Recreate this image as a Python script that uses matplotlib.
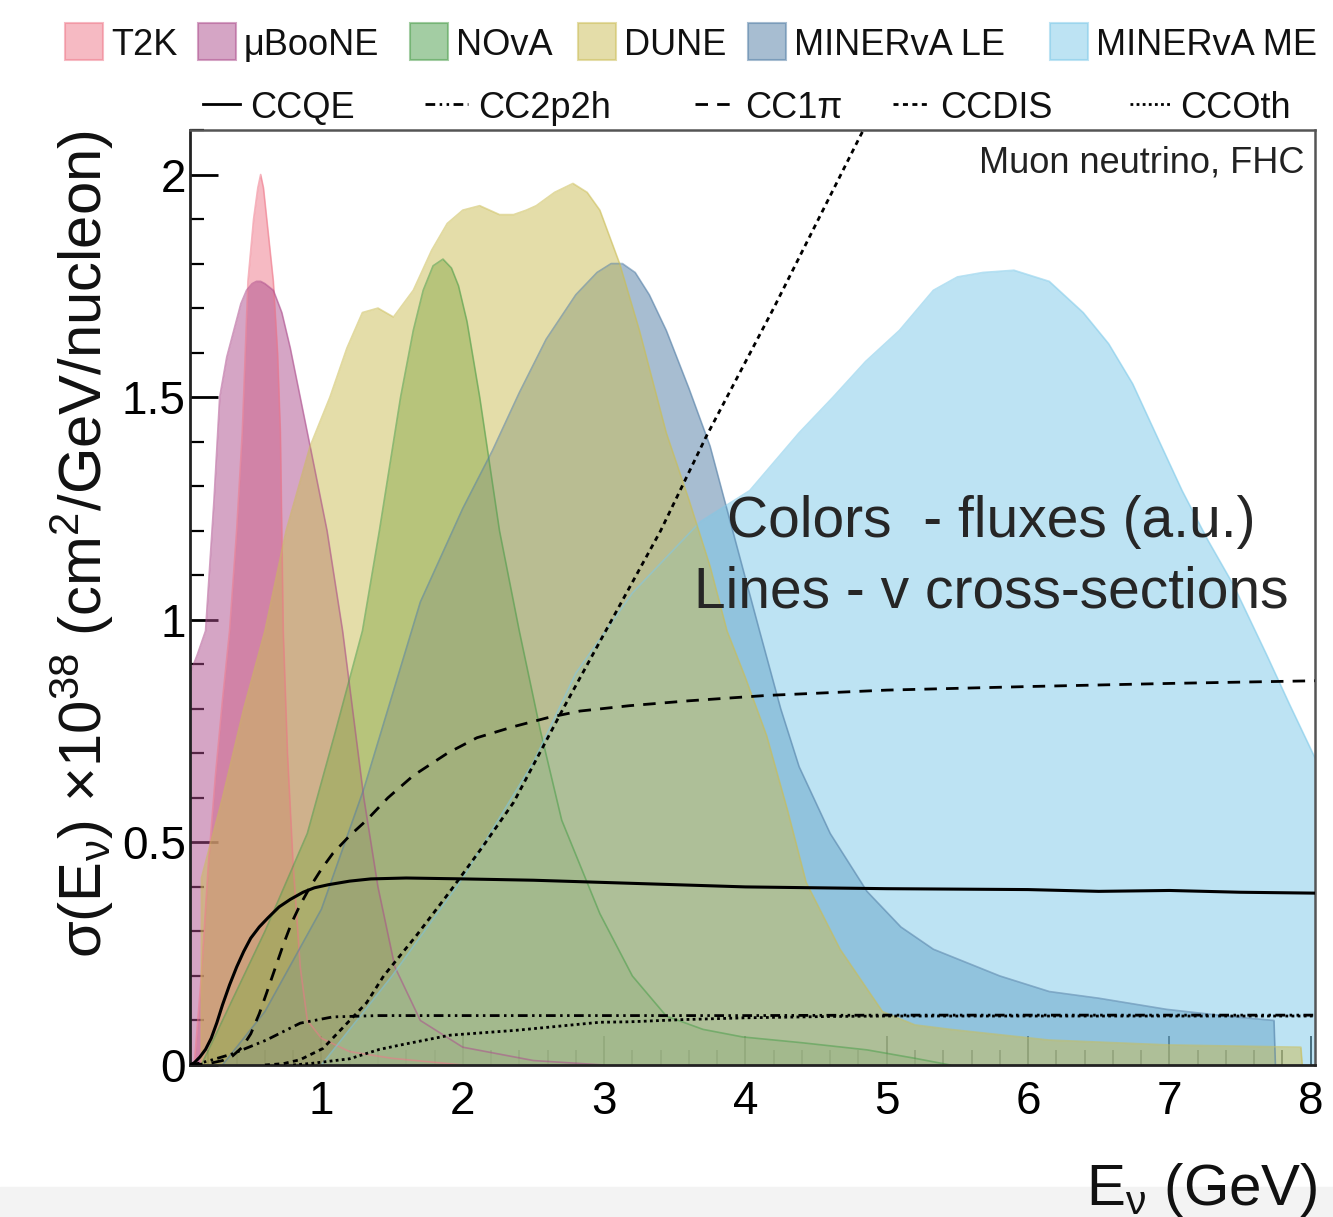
import matplotlib
matplotlib.use("Agg")
import matplotlib.pyplot as plt
from matplotlib.patches import Rectangle
from matplotlib.lines import Line2D
from matplotlib.ticker import MultipleLocator, FuncFormatter

plt.rcParams['font.family'] = ['Liberation Sans', 'DejaVu Sans']
plt.rcParams['mathtext.fontset'] = 'custom'
plt.rcParams['mathtext.rm'] = 'Liberation Sans'
plt.rcParams['mathtext.it'] = 'Liberation Sans:italic'

# ---- fluxes (arbitrary units) ----
t2k_e = [0.10, 0.15, 0.20, 0.25, 0.30, 0.35, 0.40, 0.44, 0.48, 0.52, 0.55, 0.57, 0.59, 0.62,
         0.66, 0.69, 0.71, 0.73, 0.76, 0.80, 0.85, 0.90, 1.0, 1.2, 1.5, 2.0]
t2k_f = [0.0, 0.2, 0.45, 0.65, 0.82, 0.975, 1.2, 1.42, 1.76, 1.9, 1.97, 2.0, 1.97, 1.88,
         1.76, 1.6, 1.42, 0.975, 0.7, 0.45, 0.22, 0.1, 0.06, 0.03, 0.015, 0.0]

uboone_e = [0.07, 0.12, 0.18, 0.24, 0.28, 0.33, 0.38, 0.43, 0.47, 0.51, 0.54, 0.57, 0.60, 0.66,
            0.72, 0.78, 0.85, 0.92, 1.04, 1.15, 1.22, 1.30, 1.40, 1.52, 1.70, 2.0, 2.5, 3.0]
uboone_f = [0.88, 0.92, 0.975, 1.27, 1.50, 1.59, 1.65, 1.71, 1.74, 1.755, 1.76, 1.76, 1.755,
            1.74, 1.69, 1.61, 1.50, 1.39, 1.20, 0.975, 0.80, 0.60, 0.40, 0.22, 0.10, 0.04,
            0.01, 0.0]

nova_e = [0.15, 0.30, 0.60, 0.90, 1.10, 1.29, 1.41, 1.56, 1.65, 1.72, 1.79, 1.86, 1.92, 1.97,
          2.03, 2.12, 2.26, 2.40, 2.55, 2.70, 2.97, 3.20, 3.44, 3.70, 3.98, 4.40, 4.86, 5.20, 5.45]
nova_f = [0.0, 0.1, 0.3, 0.52, 0.75, 0.975, 1.2, 1.5, 1.65, 1.74, 1.795, 1.81, 1.79, 1.75,
          1.67, 1.5, 1.2, 0.975, 0.75, 0.55, 0.34, 0.2, 0.11, 0.08, 0.063, 0.05, 0.034, 0.015, 0.0]

dune_e = [0.15, 0.151, 0.30, 0.45, 0.60, 0.75, 0.92, 1.06, 1.18, 1.29, 1.40, 1.51, 1.65, 1.78,
          1.89, 2.0, 2.12, 2.26, 2.36, 2.45, 2.52, 2.65, 2.78, 2.88, 2.97, 3.11, 3.25, 3.44,
          3.60, 3.75, 3.87, 4.0, 4.15, 4.30, 4.43, 4.67, 4.97, 5.20, 5.45, 6.15, 7.0, 7.93, 7.94]
dune_f = [0.0, 0.42, 0.6, 0.8, 0.975, 1.2, 1.39, 1.50, 1.61, 1.69, 1.70, 1.68, 1.74, 1.83,
          1.89, 1.92, 1.93, 1.91, 1.91, 1.92, 1.93, 1.96, 1.98, 1.96, 1.92, 1.80, 1.65, 1.42,
          1.27, 1.12, 0.975, 0.87, 0.74, 0.57, 0.41, 0.26, 0.12, 0.09, 0.08, 0.056, 0.045, 0.04, 0.0]

le_e = [0.30, 0.60, 1.0, 1.3, 1.7, 2.0, 2.21, 2.4, 2.59, 2.8, 2.95, 3.05, 3.13, 3.22, 3.32, 3.44,
        3.6, 3.75, 3.91, 4.10, 4.25, 4.38, 4.6, 4.86, 5.1, 5.33, 5.8, 6.15, 6.5, 6.98, 7.4, 7.74, 7.75]
le_f = [0.0, 0.12, 0.35, 0.62, 1.04, 1.25, 1.38, 1.51, 1.63, 1.73, 1.78, 1.80, 1.80, 1.78, 1.73,
        1.65, 1.52, 1.39, 1.20, 0.975, 0.80, 0.67, 0.52, 0.39, 0.31, 0.26, 0.20, 0.165, 0.15,
        0.125, 0.11, 0.10, 0.0]

me_e = [1.0, 1.5, 2.0, 2.5, 2.8, 3.2, 3.68, 4.03, 4.38, 4.62, 4.85, 5.09, 5.33, 5.5, 5.68, 5.9,
        6.15, 6.39, 6.57, 6.74, 6.9, 7.09, 7.27, 7.45, 7.69, 7.85, 8.03]
me_f = [0.0, 0.2, 0.42, 0.68, 0.88, 1.06, 1.22, 1.29, 1.42, 1.50, 1.58, 1.65, 1.74, 1.77, 1.78,
        1.785, 1.76, 1.69, 1.62, 1.53, 1.42, 1.29, 1.18, 1.08, 0.92, 0.81, 0.69]

# ---- cross sections (x 1e-38 cm2/GeV/nucleon) ----
ccqe_e = [0.07, 0.10, 0.14, 0.18, 0.22, 0.26, 0.30, 0.35, 0.40, 0.45, 0.50, 0.56, 0.62, 0.70,
          0.78, 0.87, 0.95, 1.05, 1.2, 1.35, 1.6, 2.0, 2.5, 3.0, 3.5, 4.0, 4.5, 5.0, 5.5, 6.0,
          6.5, 7.0, 7.5, 8.03]
ccqe_s = [0.0, 0.005, 0.018, 0.035, 0.06, 0.095, 0.135, 0.18, 0.22, 0.255, 0.285, 0.31, 0.33,
          0.355, 0.372, 0.388, 0.398, 0.405, 0.413, 0.418, 0.42, 0.418, 0.415, 0.41, 0.405,
          0.40, 0.398, 0.396, 0.395, 0.394, 0.39, 0.392, 0.388, 0.386]

cc1pi_e = [0.07, 0.2, 0.3, 0.37, 0.44, 0.5, 0.56, 0.61, 0.67, 0.73, 0.79, 0.85, 0.92, 1.0, 1.08,
           1.2, 1.32, 1.47, 1.65, 1.89, 2.1, 2.36, 2.6, 2.83, 3.18, 3.6, 4.15, 5.0, 6.0, 7.0, 8.03]
cc1pi_s = [0.0, 0.003, 0.01, 0.02, 0.04, 0.07, 0.115, 0.16, 0.215, 0.27, 0.32, 0.36, 0.40,
           0.44, 0.475, 0.515, 0.55, 0.60, 0.65, 0.70, 0.735, 0.76, 0.78, 0.795, 0.807, 0.818,
           0.83, 0.842, 0.85, 0.857, 0.863]

ccdis_e = [0.6, 0.73, 0.85, 1.01, 1.2, 1.32, 1.44, 1.67, 1.91, 2.14, 2.36, 2.71, 3.02, 3.4, 3.72,
           4.2, 4.81, 5.0]
ccdis_s = [0.0, 0.003, 0.012, 0.037, 0.10, 0.14, 0.20, 0.29, 0.39, 0.49, 0.59, 0.80, 0.98, 1.2,
           1.41, 1.7, 2.085, 2.2]

cc2p2h_e = [0.07, 0.15, 0.21, 0.37, 0.61, 0.85, 1.08, 1.4, 2.0, 3.0, 4.0, 5.0, 6.0, 7.0, 8.03]
cc2p2h_s = [0.0, 0.005, 0.01, 0.025, 0.056, 0.094, 0.108, 0.111, 0.111, 0.111, 0.111, 0.112,
            0.112, 0.112, 0.112]

ccoth_e = [0.8, 0.94, 1.2, 1.41, 1.56, 1.91, 2.38, 2.97, 3.18, 3.56, 4.0, 4.6, 5.0, 6.0, 7.0, 8.03]
ccoth_s = [0.0, 0.004, 0.014, 0.035, 0.045, 0.067, 0.078, 0.096, 0.097, 0.102, 0.106, 0.109,
           0.11, 0.11, 0.11, 0.11]

flux_names = ["T2K", "\u03bcBooNE", "NOvA", "DUNE", "MINERvA LE", "MINERvA ME"]
flux_colors = ["#ef7789", "#ad4d8d", "#499d49", "#cbbd55", "#517da5", "#7dc9e9"]
fluxes = [(t2k_e, t2k_f), (uboone_e, uboone_f), (nova_e, nova_f),
          (dune_e, dune_f), (le_e, le_f), (me_e, me_f)]
draw_order = [0, 1, 2, 4, 5, 3]

xs_names = ["CCQE", "CC2p2h", "CC1\u03c0", "CCDIS", "CCOth"]
xs_data = [(ccqe_e, ccqe_s), (cc2p2h_e, cc2p2h_s), (cc1pi_e, cc1pi_s),
           (ccdis_e, ccdis_s), (ccoth_e, ccoth_s)]
xs_dashes = [None, (3.5, 1.6, 0.9, 1.6, 0.9, 1.6), (4.5, 3.3), (1.8, 1.6), (1.0, 1.2)]

W, H = 1333, 1217
fig = plt.figure(figsize=(W / 100, H / 100), dpi=100)
fig.add_artist(Rectangle((0, 0), 1, 30 / H, transform=fig.transFigure,
                         color="#f3f3f3", zorder=0))

ax = fig.add_axes([190 / W, 1 - 1065 / H, (1315 - 190) / W, (1065 - 130) / H])

for i in draw_order:
    e, f = fluxes[i]
    ax.fill_between(e, 0, f, color=flux_colors[i], alpha=0.5, lw=0, zorder=1)
    ax.plot(e, f, color=flux_colors[i], alpha=0.55, lw=1.2, zorder=1.1)

for (e, s), d in zip(xs_data, xs_dashes):
    ln, = ax.plot(e, s, color="black", lw=2.0 if d else 2.2, zorder=3)
    if d:
        ln.set_dashes(d)

ax.set_xlim(0.07, 8.03)
ax.set_ylim(0, 2.1)
ax.set_axisbelow(True)
ax.xaxis.set_major_locator(MultipleLocator(1))
ax.xaxis.set_minor_locator(MultipleLocator(0.2))
ax.yaxis.set_major_locator(MultipleLocator(0.5))
ax.yaxis.set_minor_locator(MultipleLocator(0.1))
ax.yaxis.set_major_formatter(FuncFormatter(lambda v, p: f"{v:g}"))
ax.tick_params(axis="both", which="both", direction="in", color="black")
ax.tick_params(axis="x", which="major", length=21, width=1.3, pad=11, labelsize=33)
ax.tick_params(axis="x", which="minor", length=11, width=1.1)
ax.tick_params(axis="y", which="major", length=20, width=2.0, pad=3, labelsize=33)
ax.tick_params(axis="y", which="minor", length=10, width=1.6)
for side in ["left", "bottom"]:
    ax.spines[side].set_linewidth(2.0)
    ax.spines[side].set_color("#222222")
for side in ["top", "right"]:
    ax.spines[side].set_linewidth(1.8)
    ax.spines[side].set_color("#555555")

ax.text(0.991, 0.965, "Muon neutrino, FHC", transform=ax.transAxes, ha="right",
        va="center", fontsize=26, color="#222222")

fig.text(991 / W, 1 - 537 / H, "Colors  - fluxes (a.u.)", ha="center", va="baseline",
         fontsize=41, color="#262626")
fig.text(991 / W, 1 - 607 / H, "Lines - v cross-sections", ha="center", va="baseline",
         fontsize=41, color="#262626")

fig.text(1318 / W, 1 - 1205 / H, r"E$_{\mathrm{\nu}}$ (GeV)", ha="right", va="baseline",
         fontsize=42, color="#111111")
fig.text(82 / W, 1 - 130 / H,
         r"$\mathrm{\sigma}$(E$_{\mathrm{\nu}}$) $\times$10$^{\mathrm{38}}$ (cm$^{\mathrm{2}}$/GeV/nucleon)",
         rotation=90, ha="center", va="top", fontsize=43, color="#111111")

# legend row 1: flux patches
patch_x = [65, 198, 410, 578, 748, 1050]
for px, name, col in zip(patch_x, flux_names, flux_colors):
    fig.add_artist(Rectangle((px / W, 1 - 60 / H), 38 / W, 37 / H, transform=fig.transFigure,
                             facecolor=col, edgecolor=col, alpha=0.5, lw=1.5))
    fig.text((px + 46) / W, 1 - 55 / H, name, ha="left", va="baseline", fontsize=26,
             color="#111111")

# legend row 2: cross-section lines
line_x = [(203, 240), (425, 468), (695, 735), (893, 930), (1130, 1170)]
for (x0, x1), name, d in zip(line_x, xs_names, xs_dashes):
    ln = Line2D([x0 / W, x1 / W], [1 - 104 / H, 1 - 104 / H], transform=fig.transFigure,
                color="black", lw=2.0)
    if d:
        ln.set_dashes(d)
    fig.add_artist(ln)
    fig.text((x1 + 10) / W, 1 - 118 / H, name, ha="left", va="baseline", fontsize=26,
             color="#111111")

fig.savefig("out.png", dpi=100)
